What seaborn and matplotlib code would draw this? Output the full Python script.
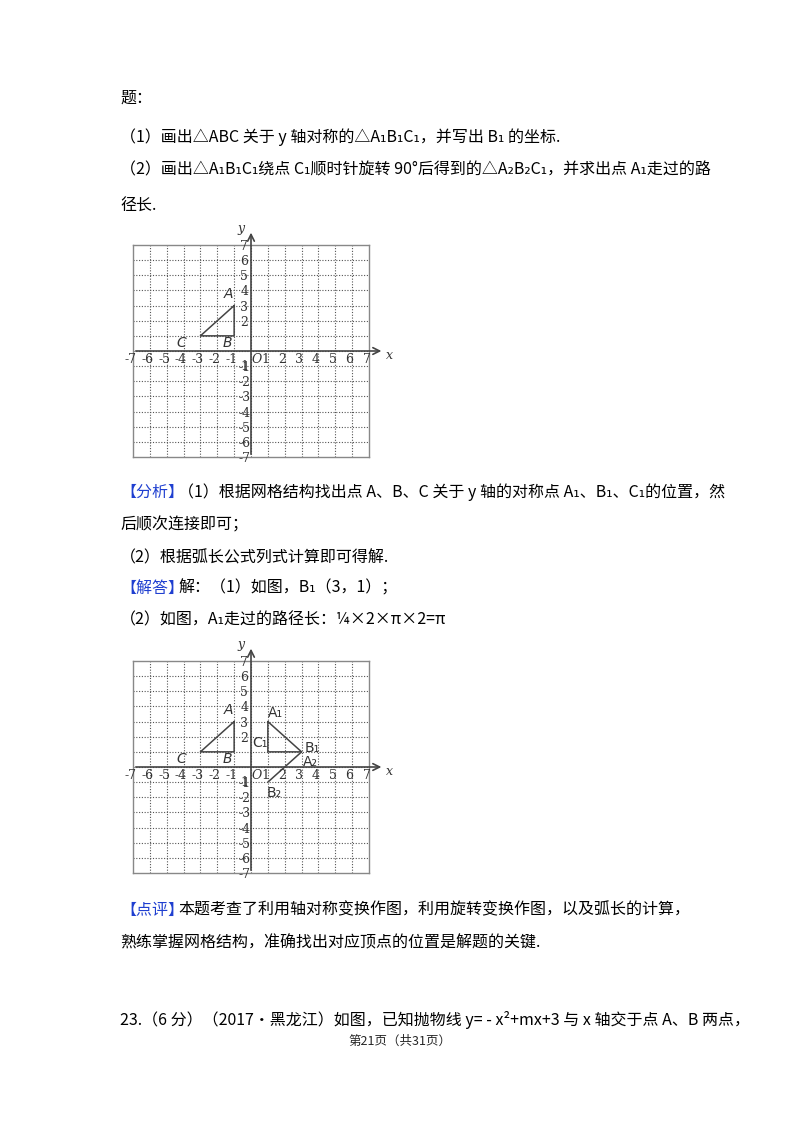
import numpy as np
import pandas as pd
import seaborn as sns
import matplotlib.pyplot as plt

sns.set_theme(style="white")
plt.rcParams['font.family'] = ['Noto Sans CJK SC', 'DejaVu Sans']

ticks = [-7, -6, -5, -4, -3, -2, -1, 1, 2, 3, 4, 5, 6, 7]
# triangle ABC
tri_x = [-1, -1, -3, -1]
tri_y = [3, 1, 1, 3]
# reflected A1B1C1
tri1_x = [1, 3, 1, 1]
tri1_y = [3, 1, 1, 3]
# rotated A2B2 segment
seg2_x = [3, 1]
seg2_y = [1, -1]

W, H = 800, 1132
fig = plt.figure(figsize=(W / 100, H / 100), dpi=100)

def px(x, y):
    return x / W, 1 - y / H

def txt(x, y, s, color='black', size=11.5, **kw):
    fig.text(*px(x, y), s, color=color, fontsize=size, va='center', ha='left', **kw)

txt(120, 98, "题：")
txt(120, 137, "（1）画出△ABC 关于 y 轴对称的△A₁B₁C₁，并写出 B₁ 的坐标.")
txt(120, 170, "（2）画出△A₁B₁C₁绕点 C₁顺时针旋转 90°后得到的△A₂B₂C₁，并求出点 A₁走过的路")
txt(120, 205, "径长.")
txt(120, 492, "【分析】", color='#1f3fd0')
txt(178, 492, "（1）根据网格结构找出点 A、B、C 关于 y 轴的对称点 A₁、B₁、C₁的位置，然")
txt(120, 525, "后顺次连接即可；")
txt(120, 558, "（2）根据弧长公式列式计算即可得解.")
txt(120, 588, "【解答】", color='#1f3fd0')
txt(178, 588, "解：（1）如图，B₁（3，1）；")
txt(120, 620, "（2）如图，A₁走过的路径长：¼×2×π×2=π")
txt(120, 910, "【点评】", color='#1f3fd0')
txt(178, 910, "本题考查了利用轴对称变换作图，利用旋转变换作图，以及弧长的计算，")
txt(120, 943, "熟练掌握网格结构，准确找出对应顶点的位置是解题的关键.")
txt(120, 1020, "23.（6 分）（2017•黑龙江）如图，已知抛物线 y= - x²+mx+3 与 x 轴交于点 A、B 两点，")
fig.text(*px(400, 1041), "第21页（共31页）", fontsize=9, ha='center', va='center')


def grid(top, second):
    left, right, bottom = 133, 369, top + 212
    ax = fig.add_axes([left / W, 1 - bottom / H, (right - left) / W, (bottom - top) / H])
    ax.set_xlim(-7, 7)
    ax.set_ylim(-7, 7)
    for v in range(-6, 7):
        ax.axvline(v, color='#555555', lw=0.8, ls=(0, (1, 1.5)))
        ax.axhline(v, color='#555555', lw=0.8, ls=(0, (1, 1.5)))
    for s in ax.spines.values():
        s.set_color('#888888')
        s.set_linewidth(1)
    ax.set_xticks([])
    ax.set_yticks([])
    ax.annotate('', xy=(7.9, 0), xytext=(-7, 0), annotation_clip=False,
                arrowprops=dict(arrowstyle='->', color='#444444', lw=1.2))
    ax.annotate('', xy=(0, 8.0), xytext=(0, -7), annotation_clip=False,
                arrowprops=dict(arrowstyle='->', color='#444444', lw=1.2))
    ff = dict(family='DejaVu Serif', fontsize=9, color='#333333')
    lf = dict(family='DejaVu Sans', fontsize=10, color='#333333', style='italic')
    for t in ticks:
        ax.text(t - 0.15, -0.55, str(t), ha='center', va='center', clip_on=False, **ff)
        if t != 1:
            ax.text(-0.4, t - 0.1, str(t), ha='center', va='center', clip_on=False, **ff)
    ax.text(-0.4, -1.0, "1", ha='center', va='center', **ff)
    ax.text(0.35, -0.55, "O", ha='center', va='center', style='italic', **ff)
    ax.text(8.2, -0.3, "x", ha='center', va='center', style='italic', clip_on=False, **ff)
    ax.text(-0.6, 8.1, "y", ha='center', va='center', style='italic', clip_on=False, **ff)
    ax.plot(tri_x, tri_y, color='#444444', lw=1.1)
    ax.text(-1.6, 3.5, "A", **lf)
    ax.text(-1.7, 0.25, "B", **lf)
    ax.text(-4.4, 0.25, "C", **lf)
    if second:
        ax.plot(tri1_x, tri1_y, color='#444444', lw=1.1)
        ax.plot(seg2_x, seg2_y, color='#444444', lw=1.1)
        lf2 = dict(lf, style='normal')
        ax.text(1.0, 3.3, "A₁", **lf2)
        ax.text(0.05, 1.3, "C₁", **lf2)
        ax.text(3.2, 1.0, "B₁", **lf2)
        ax.text(3.1, 0.05, "A₂", **lf2)
        ax.text(0.9, -2.0, "B₂", **lf2)

grid(245, False)
grid(661, True)

fig.savefig('out.png', dpi=100, facecolor='white')
